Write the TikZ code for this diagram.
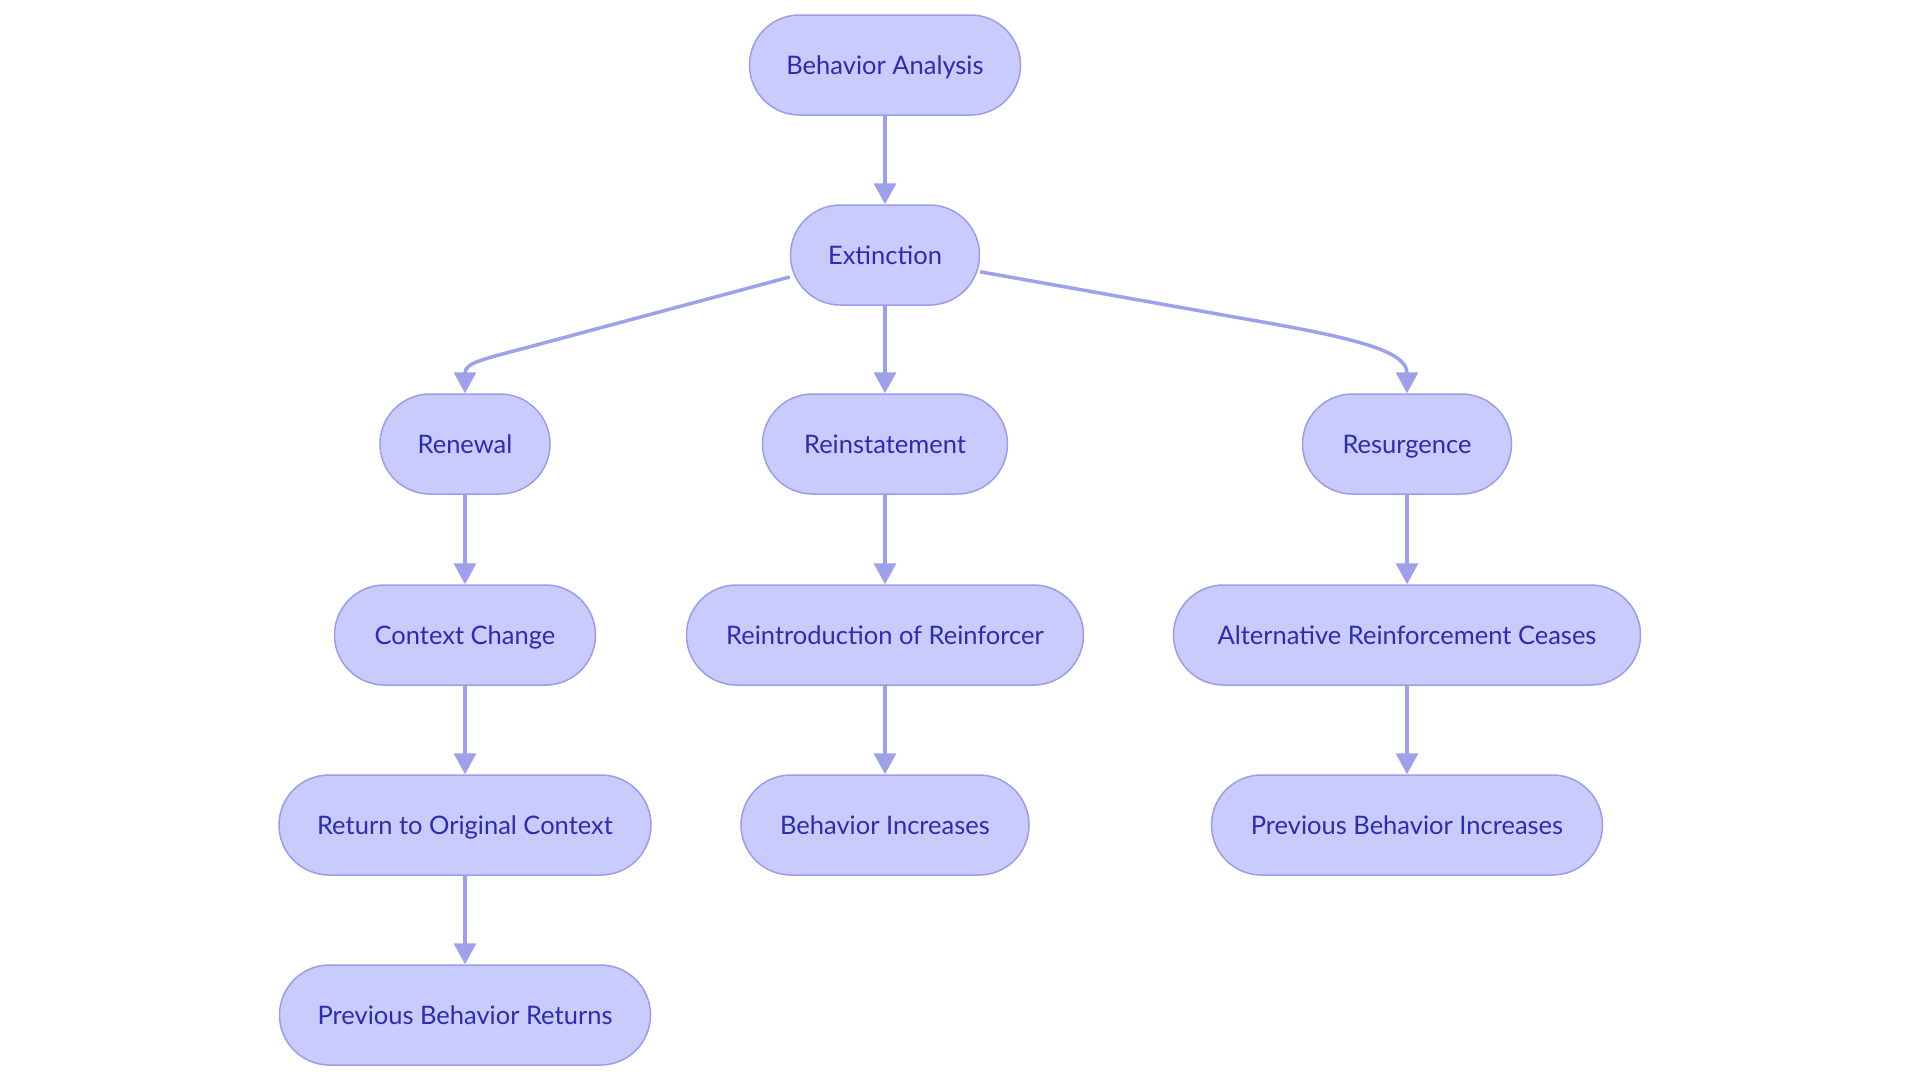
\documentclass[tikz,border=0pt]{standalone}
\usepackage{fontspec}
\setmainfont{Lato}
\usetikzlibrary{arrows.meta}
\definecolor{nodefill}{HTML}{C9CBFD}
\definecolor{nodeline}{HTML}{9A9DE8}
\definecolor{nodetext}{HTML}{2C2DAE}
\definecolor{edgecol}{HTML}{9DA1EC}
\begin{document}
\begin{tikzpicture}[x=1pt,y=-1pt,
  box/.style={draw=nodeline, fill=nodefill, line width=1.5pt, rounded corners=50pt,
    minimum height=100pt, text=nodetext, font=\fontsize{25.5}{30}\selectfont, inner sep=0pt,
    text height=19pt, text depth=1pt},
  edge/.style={draw=edgecol, line width=3.5pt, -{Triangle[length=21pt,width=22pt]}}]
\useasboundingbox (0,0) rectangle (1920,1080);
\node[box, minimum width=271pt] (ba) at (885,65) {Behavior Analysis};
\node[box, minimum width=189pt] (ext) at (885,255) {Extinction};
\node[box, minimum width=170pt] (ren) at (465,444) {Renewal};
\node[box, minimum width=245pt] (rei) at (885,444) {Reinstatement};
\node[box, minimum width=209pt] (res) at (1407,444) {Resurgence};
\node[box, minimum width=261pt] (cc) at (465,635) {Context Change};
\node[box, minimum width=397pt] (ror) at (885,635) {Reintroduction of Reinforcer};
\node[box, minimum width=467pt] (arc) at (1407,635) {Alternative Reinforcement Ceases};
\node[box, minimum width=372pt] (roc) at (465,825) {Return to Original Context};
\node[box, minimum width=288pt] (bi) at (885,825) {Behavior Increases};
\node[box, minimum width=391pt] (pbi) at (1407,825) {Previous Behavior Increases};
\node[box, minimum width=371pt] (pbr) at (465,1015) {Previous Behavior Returns};
\draw[edge] (ba) -- (ext);
\draw[edge] (ext) -- (rei);
\draw[edge] (ext.193) -- (540,344) .. controls (485,359) and (465,362) .. (ren.north);
\draw[edge] (ext.-10) -- (1240,318) .. controls (1350,337) and (1407,350) .. (res.north);
\draw[edge] (ren) -- (cc);
\draw[edge] (cc) -- (roc);
\draw[edge] (roc) -- (pbr);
\draw[edge] (rei) -- (ror);
\draw[edge] (ror) -- (bi);
\draw[edge] (res) -- (arc);
\draw[edge] (arc) -- (pbi);
\end{tikzpicture}
\end{document}
